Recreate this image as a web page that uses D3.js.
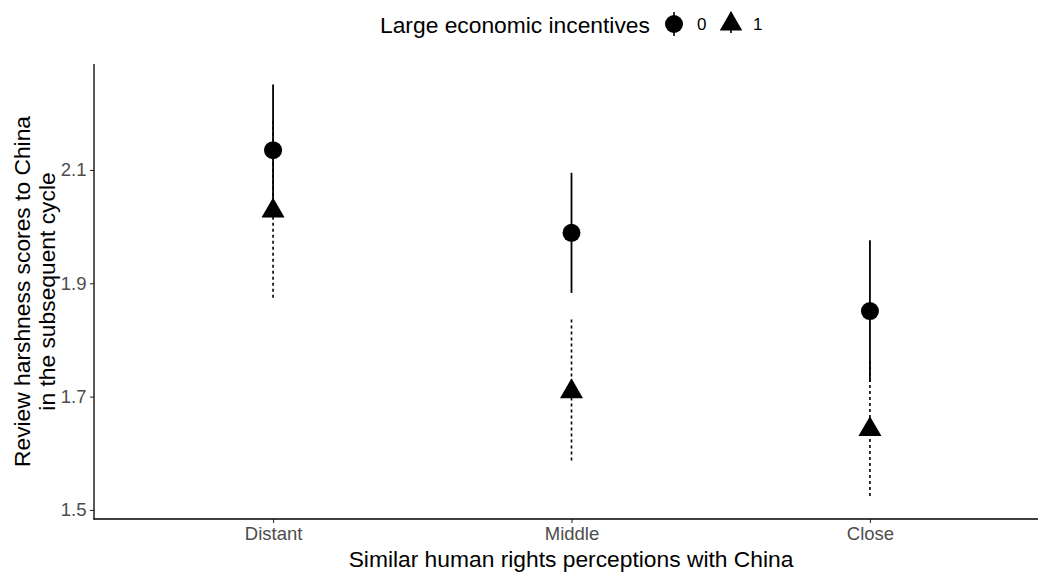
<!DOCTYPE html>
<html>
<head>
<meta charset="utf-8">
<script src="https://cdn.jsdelivr.net/npm/d3@7"></script>
<style>
  html, body { margin: 0; padding: 0; background: #fff; }
  svg { display: block; font-family: "Liberation Sans", Arial, sans-serif; }
</style>
</head>
<body>
<svg id="chart" width="1038" height="572"></svg>
<script>
// Categories along the x axis
const categories = ["Distant", "Middle", "Close"];
// Legend groups: large economic incentives 0 / 1
const groups = ["0", "1"];

// Group 0 (circles, solid intervals)
const estimate0 = [2.135, 1.989, 1.851];
const lower0    = [2.019, 1.883, 1.726];
const upper0    = [2.251, 2.095, 1.976];

// Group 1 (triangles, dotted intervals)
const estimate1 = [2.028, 1.709, 1.642];
const lower1    = [1.869, 1.582, 1.521];
const upper1    = [2.187, 1.836, 1.763];

const yTicks = [1.5, 1.7, 1.9, 2.1];

const svg = d3.select("#chart");

const panel = { left: 94, right: 1036, top: 64, bottom: 519 };

const x = d3.scalePoint()
  .domain(categories)
  .range([panel.left, 1049])
  .padding(0.6);

const y = d3.scaleLinear()
  .domain([1.484, 2.287])
  .range([panel.bottom, panel.top]);

const series = [
  { key: groups[0], est: estimate0, lo: lower0, hi: upper0, shape: "circle", dash: null },
  { key: groups[1], est: estimate1, lo: lower1, hi: upper1, shape: "triangle", dash: "3,3" }
];

// Triangle path centred on (cx, cy), apex up
function trianglePath(cx, cy, r) {
  const hw = 0.866 * r;
  return `M${cx},${cy - r}L${cx + hw},${cy + r / 2}L${cx - hw},${cy + r / 2}Z`;
}

const tickFont = 18.5;
const titleFont = 22.8;

// Axes
const yAxis = d3.axisLeft(y).tickValues(yTicks).tickFormat(d3.format(".1f")).tickSize(4).tickSizeOuter(0);
const gy = svg.append("g").attr("transform", `translate(${panel.left},0)`).call(yAxis);
gy.select(".domain").remove();
gy.selectAll(".tick line").attr("stroke", "#333").attr("stroke-width", 1.1);
gy.selectAll(".tick text").attr("fill", "#4d4d4d").attr("font-size", tickFont)
  .attr("font-family", "Liberation Sans, Arial, sans-serif").attr("x", -7.5);

const xAxis = d3.axisBottom(x).tickSize(4).tickSizeOuter(0);
const gx = svg.append("g").attr("transform", `translate(0,${panel.bottom})`).call(xAxis);
gx.select(".domain").remove();
gx.selectAll(".tick line").attr("stroke", "#333").attr("stroke-width", 1.1);
gx.selectAll(".tick text").attr("fill", "#4d4d4d").attr("font-size", tickFont)
  .attr("font-family", "Liberation Sans, Arial, sans-serif").attr("y", 7.5).attr("dy", "0.71em");

// Axis lines
svg.append("line")
  .attr("x1", panel.left).attr("x2", panel.left)
  .attr("y1", panel.top).attr("y2", panel.bottom + 0.6)
  .attr("stroke", "#000").attr("stroke-width", 1.3);
svg.append("line")
  .attr("x1", panel.left - 0.6).attr("x2", panel.right + 2)
  .attr("y1", panel.bottom).attr("y2", panel.bottom)
  .attr("stroke", "#000").attr("stroke-width", 1.3);

// Intervals (dotted first, solid on top), then points
series.slice().reverse().forEach(s => {
  const g = svg.append("g");
  g.selectAll("line")
    .data(categories)
    .join("line")
    .attr("x1", d => x(d)).attr("x2", d => x(d))
    .attr("y1", (d, i) => y(s.hi[i]))
    .attr("y2", (d, i) => y(s.lo[i]))
    .attr("stroke", "#000")
    .attr("stroke-width", s.dash ? 1.6 : 1.8)
    .attr("stroke-dasharray", s.dash);
});
series.forEach(s => {
  const g = svg.append("g");
  if (s.shape === "circle") {
    g.selectAll("circle")
      .data(categories)
      .join("circle")
      .attr("cx", d => x(d))
      .attr("cy", (d, i) => y(s.est[i]))
      .attr("r", 9)
      .attr("fill", "#000");
  } else {
    g.selectAll("path")
      .data(categories)
      .join("path")
      .attr("d", (d, i) => trianglePath(x(d), y(s.est[i]), 13.3))
      .attr("fill", "#000");
  }
});

// Axis titles
svg.append("text")
  .attr("x", 571)
  .attr("y", 567)
  .attr("text-anchor", "middle")
  .attr("font-size", titleFont)
  .attr("fill", "#000")
  .text("Similar human rights perceptions with China");

const yTitle = svg.append("text")
  .attr("transform", `translate(0,${(panel.top + panel.bottom) / 2}) rotate(-90)`)
  .attr("text-anchor", "middle")
  .attr("font-size", titleFont)
  .attr("fill", "#000");
yTitle.append("tspan").attr("x", 0).attr("y", 30).text("Review harshness scores to China");
yTitle.append("tspan").attr("x", 0).attr("y", 55).text("in the subsequent cycle");

// Legend
const legend = svg.append("g");
legend.append("text")
  .attr("x", 380).attr("y", 33)
  .attr("font-size", titleFont).attr("fill", "#000")
  .text("Large economic incentives");

const keyX = [674, 731];
const labelX = [697, 753];
series.forEach((s, i) => {
  if (s.shape === "circle") {
    legend.append("line")
      .attr("x1", keyX[i]).attr("x2", keyX[i])
      .attr("y1", 12).attr("y2", 36)
      .attr("stroke", "#000").attr("stroke-width", 1.6);
    legend.append("circle").attr("cx", keyX[i]).attr("cy", 24).attr("r", 9).attr("fill", "#000");
  } else {
    legend.append("line")
      .attr("x1", keyX[i]).attr("x2", keyX[i])
      .attr("y1", 12).attr("y2", 36)
      .attr("stroke", "#000").attr("stroke-width", 1.6)
      .attr("stroke-dasharray", s.dash);
    legend.append("path").attr("d", trianglePath(keyX[i], 24, 13)).attr("fill", "#000");
  }
  legend.append("text")
    .attr("x", labelX[i]).attr("y", 30)
    .attr("font-size", 17).attr("fill", "#000")
    .text(s.key);
});
</script>
</body>
</html>
